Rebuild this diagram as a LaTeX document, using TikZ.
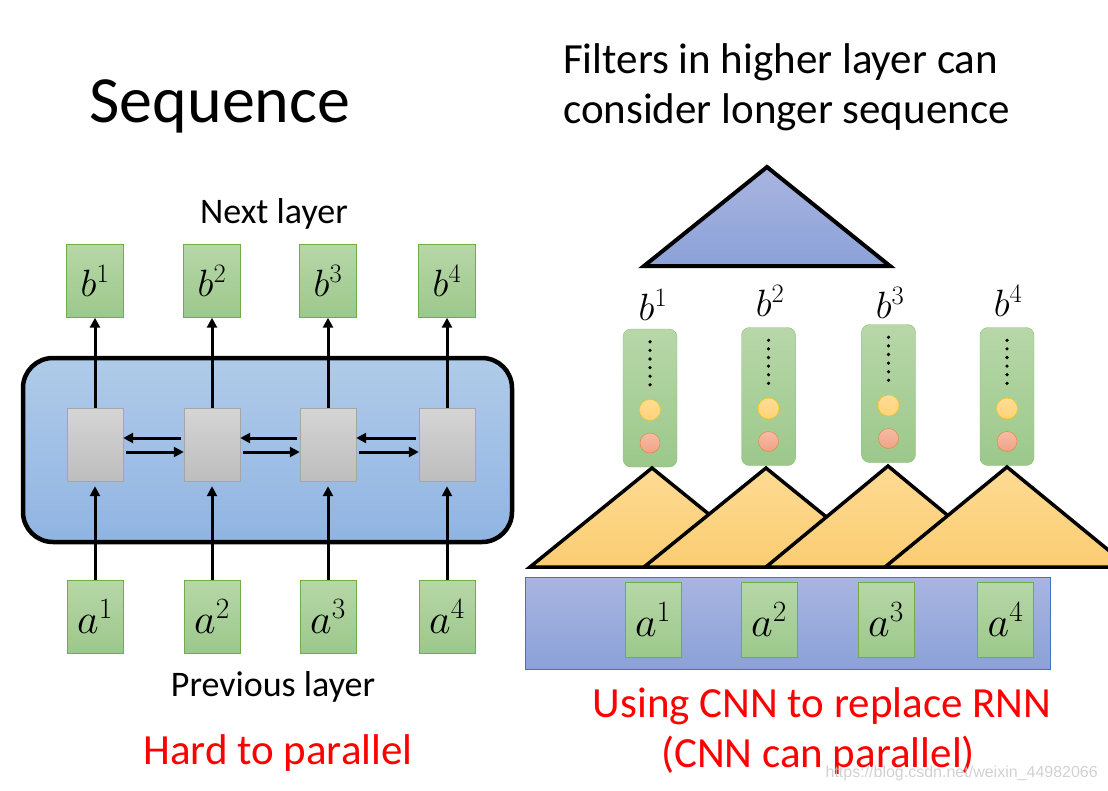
\RequirePackage{fix-cm}
\documentclass[tikz,border=0pt]{standalone}
\usepackage{fontspec}
\setmainfont{Carlito}
\newfontfamily\urlfont{Liberation Sans}
\usepackage{amsmath}
\usepackage{tikz}
\definecolor{greenhi}{HTML}{B7D7A8}
\definecolor{greenlo}{HTML}{9CC88B}
\definecolor{greenline}{HTML}{70AD47}
\definecolor{grayhi}{HTML}{D5D5D5}
\definecolor{graylo}{HTML}{BDBDBD}
\definecolor{grayline}{HTML}{A6A6A6}
\definecolor{rnnhi}{HTML}{B0CBE9}
\definecolor{rnnlo}{HTML}{90B4E2}
\definecolor{filthi}{HTML}{FEDA93}
\definecolor{filtlo}{HTML}{FBCD72}
\definecolor{tophi}{HTML}{A9B5E0}
\definecolor{toplo}{HTML}{8BA1D8}
\definecolor{barline}{HTML}{4472C4}
\definecolor{colline}{HTML}{8CBE78}
\definecolor{yelhi}{HTML}{FFDD95}
\definecolor{yello}{HTML}{FFD27A}
\definecolor{yelline}{HTML}{FFC000}
\definecolor{redhi}{HTML}{F6BCA6}
\definecolor{redlo}{HTML}{F0A286}
\definecolor{redline}{HTML}{ED7D31}
\usetikzlibrary{positioning, arrows, arrows.meta, shapes}
\tikzstyle{arrow} = [line width=3pt,-{Triangle[length=10pt,width=10pt]}]

\begin{document}
\begin{tikzpicture}[x=1pt, y=-1pt]
                    \tikzstyle{every node}=[inner sep=0pt, font=\fontsize{36}{43}\selectfont]
                    \tikzstyle{unit} = [draw=greenline, top color=greenhi, bottom color=greenlo, minimum width=57pt, minimum height=73pt, font=\fontsize{38}{44}\selectfont]
                    \tikzstyle{input} = [unit, minimum width=56pt, font=\fontsize{42}{48}\selectfont]
                    \tikzstyle{cell} = [draw=grayline, top color=grayhi, bottom color=graylo, minimum width=56pt, minimum height=73pt]
                    \tikzstyle{rnnbox} = [draw=black, line width=4.5pt, rounded corners=30pt, top color=rnnhi, bottom color=rnnlo]
                    \tikzstyle{column} = [draw=colline, rounded corners=8pt, top color=greenhi, bottom color=greenlo, minimum width=54pt, minimum height=138pt]
                    \tikzstyle{dotcol} = [line width=3.6pt, line cap=round, dash pattern=on 0pt off 8.6pt]
                    \tikzstyle{yel} = [circle, draw=yelline, top color=yelhi, bottom color=yello, minimum size=21pt]
                    \tikzstyle{redc} = [circle, draw=redline, top color=redhi, bottom color=redlo, minimum size=20pt]
                    \tikzstyle{filt} = [draw=black, line width=3.5pt, top color=filthi, bottom color=filtlo]
                    \tikzstyle{bigfilt} = [draw=black, line width=4pt, top color=tophi, bottom color=toplo]
                    \tikzstyle{bar} = [draw=barline, top color=tophi, bottom color=toplo, minimum width=525pt, minimum height=92pt]
                    \tikzstyle{big} = [font=\fontsize{43}{50}\selectfont]
                    \useasboundingbox (0,0) rectangle (1108,790);

                    % RNN side
                    \node[anchor=base, font=\fontsize{66}{72}\selectfont] (title) at (220,122) {Sequence};
                    \node[anchor=base] (next) at (274,223) {Next layer};
                    \node[rnnbox, minimum width=489pt, minimum height=184pt] (rnn) at (267.5,450) {};

                    \node[unit](b1) at (95,281) {$b^1$};
                    \node[unit](b2) at (212,281) {$b^2$};
                    \node[unit](b3) at (328,281) {$b^3$};
                    \node[unit](b4) at (447,281) {$b^4$};

                    \node[cell](h1) at (95,444.5) {};
                    \node[cell](h2) at (212,444.5) {};
                    \node[cell](h3) at (328,444.5) {};
                    \node[cell](h4) at (447,444.5) {};

                    \node[input](a1) at (95,616.5) {$a^1$};
                    \node[input](a2) at (212,616.5) {$a^2$};
                    \node[input](a3) at (328,616.5) {$a^3$};
                    \node[input](a4) at (447,616.5) {$a^4$};

                    \draw[arrow, shorten >=5pt] (a1) -- (h1);
                    \draw[arrow, shorten >=5pt] (a2) -- (h2);
                    \draw[arrow, shorten >=5pt] (a3) -- (h3);
                    \draw[arrow, shorten >=5pt] (a4) -- (h4);
                    \draw[arrow] (h1) -- (b1);
                    \draw[arrow] (h2) -- (b2);
                    \draw[arrow] (h3) -- (b3);
                    \draw[arrow] (h4) -- (b4);

                    \draw[arrow, shorten <=3pt] ([yshift=6.5pt]h2.west) -- ([yshift=6.5pt]h1.east);
                    \draw[arrow, shorten <=3pt] ([yshift=6.5pt]h3.west) -- ([yshift=6.5pt]h2.east);
                    \draw[arrow, shorten <=3pt] ([yshift=6.5pt]h4.west) -- ([yshift=6.5pt]h3.east);
                    \draw[arrow, shorten <=3pt] ([yshift=-7.5pt]h1.east) -- ([yshift=-7.5pt]h2.west);
                    \draw[arrow, shorten <=3pt] ([yshift=-7.5pt]h2.east) -- ([yshift=-7.5pt]h3.west);
                    \draw[arrow, shorten <=3pt] ([yshift=-7.5pt]h3.east) -- ([yshift=-7.5pt]h4.west);

                    \node[anchor=base] (prev) at (273,696) {Previous layer};
                    \node[big, anchor=base, text=red] (hard) at (278,764) {Hard to parallel};

                    % CNN side
                    \node[big, anchor=base west] (note1) at (563,73) {Filters in higher layer can};
                    \node[big, anchor=base west] (note2) at (563,123) {consider longer sequence};
                    \draw[bigfilt] (644,266) -- (767,167) -- (890,266) -- cycle;

                    \node[font=\fontsize{38}{44}\selectfont](out1) at (653,305) {$b^1$};
                    \node[font=\fontsize{38}{44}\selectfont](out2) at (770,301) {$b^2$};
                    \node[font=\fontsize{38}{44}\selectfont](out3) at (890,303) {$b^3$};
                    \node[font=\fontsize{38}{44}\selectfont](out4) at (1008,301) {$b^4$};

                    \node[column](c1) at (650,398) {};
                    \node[column](c2) at (768.5,396.5) {};
                    \node[column](c3) at (888.5,393.5) {};
                    \node[column](c4) at (1007,396.5) {};
                    \draw[dotcol] ([yshift=-13pt]c1.north) -- ([yshift=-56.2pt]c1.north);
                    \draw[dotcol] ([yshift=-13pt]c2.north) -- ([yshift=-56.2pt]c2.north);
                    \draw[dotcol] ([yshift=-13pt]c3.north) -- ([yshift=-56.2pt]c3.north);
                    \draw[dotcol] ([yshift=-13pt]c4.north) -- ([yshift=-56.2pt]c4.north);
                    \node[yel](y1) at (650,410) {};
                    \node[yel](y2) at (768.5,408.5) {};
                    \node[yel](y3) at (888.5,405.5) {};
                    \node[yel](y4) at (1007,408.5) {};
                    \node[redc](r1) at (650,443) {};
                    \node[redc](r2) at (768.5,441.5) {};
                    \node[redc](r3) at (888.5,438.5) {};
                    \node[redc](r4) at (1007,441.5) {};

                    \draw[filt] (530,567) -- (652,468) -- (774,567) -- cycle;
                    \draw[filt] (644,567) -- (766,468) -- (888,567) -- cycle;
                    \draw[filt] (766,567) -- (888,466) -- (1010,567) -- cycle;
                    \draw[filt] (885,567) -- (1007,467) -- (1129,567) -- cycle;

                    \node[bar](inp) at (787.5,623) {};
                    \node[input, minimum height=75pt](x1) at (653,619.5) {$a^1$};
                    \node[input, minimum height=75pt](x2) at (769,619.5) {$a^2$};
                    \node[input, minimum height=75pt](x3) at (886,619.5) {$a^3$};
                    \node[input, minimum height=75pt](x4) at (1005.5,619.5) {$a^4$};

                    \node[big, anchor=base, text=red] (use1) at (822,717) {Using CNN to replace RNN};
                    \node[big, anchor=base, text=red] (use2) at (818,767) {(CNN can parallel)};
                    \node[anchor=base east, font=\urlfont\fontsize{16}{19}\selectfont, text=gray!45, opacity=0.8] (mark) at (1098,777) {https://blog.csdn.net/weixin\_44982066};
\end{tikzpicture}
\end{document}
